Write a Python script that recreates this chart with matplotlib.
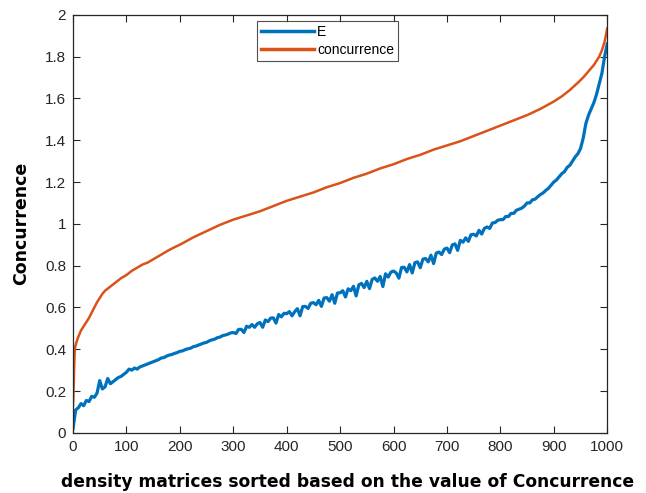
import matplotlib
matplotlib.use("Agg")
import matplotlib.pyplot as plt
from matplotlib.ticker import FormatStrFormatter, MultipleLocator

E_X = list(range(0, 1001, 5))
E_VALS = [
    0.02, 0.11, 0.12, 0.14, 0.13, 0.155, 0.15, 0.175, 0.17, 0.19,
    0.25, 0.21, 0.22, 0.26, 0.235, 0.245, 0.255, 0.265, 0.27, 0.28,
    0.29, 0.305, 0.30, 0.31, 0.305, 0.315, 0.32, 0.325, 0.33, 0.335,
    0.34, 0.345, 0.35, 0.358, 0.36, 0.367, 0.372, 0.375, 0.38, 0.384,
    0.39, 0.392, 0.398, 0.402, 0.405, 0.412, 0.415, 0.42, 0.425, 0.43,
    0.433, 0.44, 0.445, 0.448, 0.455, 0.458, 0.465, 0.468, 0.472, 0.478,
    0.48, 0.475, 0.495, 0.495, 0.48, 0.51, 0.505, 0.518, 0.505, 0.522,
    0.528, 0.505, 0.54, 0.532, 0.549, 0.55, 0.525, 0.566, 0.555, 0.572,
    0.57, 0.58, 0.56, 0.58, 0.594, 0.56, 0.604, 0.605, 0.595, 0.62,
    0.623, 0.613, 0.634, 0.605, 0.645, 0.647, 0.63, 0.661, 0.62, 0.669,
    0.67, 0.68, 0.65, 0.689, 0.68, 0.701, 0.655, 0.708, 0.715, 0.695,
    0.725, 0.69, 0.734, 0.741, 0.725, 0.748, 0.70, 0.761, 0.745, 0.769,
    0.774, 0.765, 0.74, 0.791, 0.792, 0.77, 0.805, 0.765, 0.814, 0.818,
    0.79, 0.831, 0.834, 0.818, 0.85, 0.81, 0.86, 0.865, 0.853, 0.879,
    0.884, 0.862, 0.899, 0.904, 0.873, 0.921, 0.912, 0.933, 0.916, 0.948,
    0.95, 0.942, 0.969, 0.951, 0.978, 0.985, 0.978, 1.004, 1.006, 1.017,
    1.02, 1.02, 1.035, 1.035, 1.05, 1.05, 1.065, 1.07, 1.075, 1.085,
    1.10, 1.10, 1.115, 1.118, 1.13, 1.14, 1.148, 1.16, 1.17, 1.185,
    1.20, 1.21, 1.225, 1.24, 1.25, 1.27, 1.28, 1.30, 1.32, 1.335,
    1.36, 1.41, 1.48, 1.52, 1.55, 1.58, 1.62, 1.67, 1.72, 1.80,
    1.86,
]

# concurrence (smooth curve)
C_X = [0, 1, 2, 3, 4, 6, 10, 15, 20, 25, 30, 35, 40, 45, 50, 55, 60, 65, 70,
       75, 80, 90, 100, 110, 120, 130, 140, 150, 160, 170, 180, 190, 200,
       225, 250, 275, 300, 325, 350, 375, 400, 425, 450, 475, 500, 525, 550,
       575, 600, 625, 650, 675, 700, 725, 750, 775, 800, 825, 850, 875, 900,
       915, 930, 945, 955, 965, 975, 985, 990, 995, 1000]
C_VALS = [0.13, 0.20, 0.30, 0.38, 0.41, 0.43, 0.46, 0.49, 0.51, 0.53, 0.55,
          0.575, 0.60, 0.625, 0.645, 0.665, 0.68, 0.69, 0.70, 0.71, 0.72,
          0.74, 0.755, 0.775, 0.79, 0.805, 0.815, 0.83, 0.845, 0.86, 0.875,
          0.888, 0.90, 0.935, 0.965, 0.995, 1.02, 1.04, 1.06, 1.085, 1.11,
          1.13, 1.15, 1.175, 1.195, 1.22, 1.24, 1.265, 1.285, 1.31, 1.33,
          1.355, 1.375, 1.395, 1.42, 1.445, 1.47, 1.495, 1.52, 1.55, 1.585,
          1.61, 1.64, 1.675, 1.70, 1.73, 1.76, 1.80, 1.83, 1.87, 1.935]

BLUE = "#0072BD"
ORANGE = "#D95319"

plt.rcParams["font.family"] = ["Liberation Sans", "DejaVu Sans"]

fig = plt.figure(figsize=(6.46, 4.93), dpi=100)
ax = fig.add_axes([0.113, 0.122, 0.827, 0.848])

ax.plot(E_X, E_VALS, color=BLUE, linewidth=2.3, label="E")
ax.plot(C_X, C_VALS, color=ORANGE, linewidth=1.8, label="concurrence")

ax.set_xlim(0, 1000)
ax.set_ylim(0, 2)
ax.xaxis.set_major_locator(MultipleLocator(100))
ax.yaxis.set_major_locator(MultipleLocator(0.2))
ax.yaxis.set_major_formatter(FormatStrFormatter("%g"))
ax.tick_params(direction="in", top=True, right=True, length=5,
               labelsize=11, colors="#262626", pad=5)
for sp in ax.spines.values():
    sp.set_color("#262626")
    sp.set_linewidth(0.9)

ax.set_xlabel("density matrices sorted based on the value of Concurrence",
              fontsize=12.3, fontweight="heavy", family="DejaVu Sans")
ax.xaxis.set_label_coords(0.513, -0.095)
ax.set_ylabel("Concurrence", fontsize=12.5, fontweight="heavy",
              family="DejaVu Sans", labelpad=11)

leg = ax.legend(loc="upper left", bbox_to_anchor=(0.345, 0.985),
                fontsize=10, frameon=True, fancybox=False, handlelength=3.8,
                handletextpad=0.2, borderpad=0.3, labelspacing=0.25,
                borderaxespad=0)
leg.get_frame().set_edgecolor("#262626")
leg.get_frame().set_linewidth(0.8)
for line in leg.get_lines():
    line.set_linewidth(2.5)

fig.savefig("out.png", dpi=100, facecolor="white")
